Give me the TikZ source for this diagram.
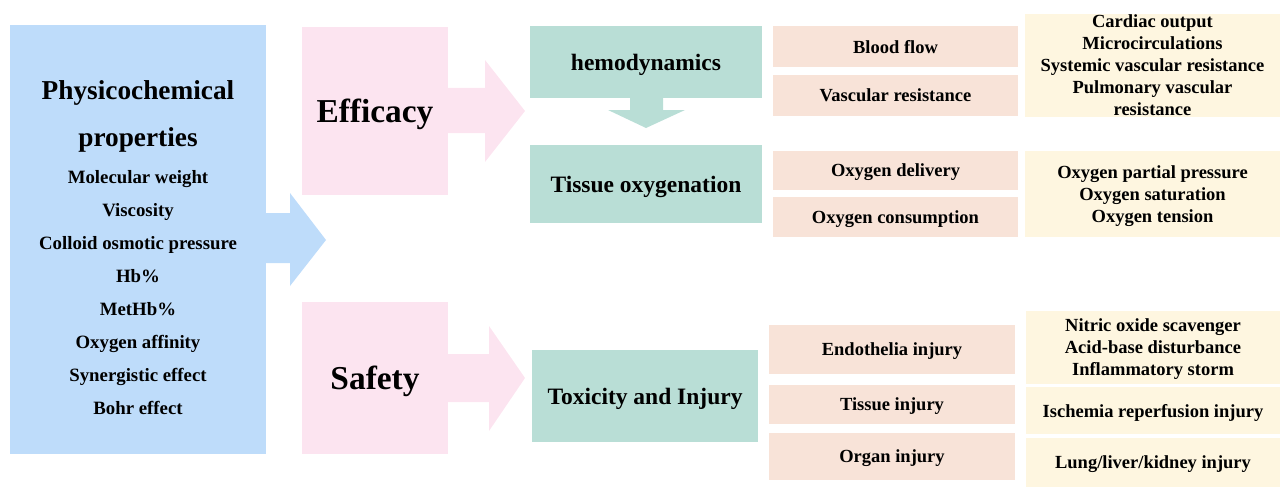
\documentclass[tikz,border=0pt]{standalone}
\usepackage{fontspec}
\setmainfont{Liberation Serif}
\definecolor{cblue}{RGB}{190,220,250}
\definecolor{cpink}{RGB}{252,228,240}
\definecolor{cteal}{RGB}{185,222,214}
\definecolor{csalmon}{RGB}{248,227,216}
\definecolor{cyellow}{RGB}{254,246,224}
\tikzset{
  box/.style={draw=none, inner sep=0pt, outer sep=0pt, align=center, text depth=0pt, font=\bfseries},
  bluebox/.style={box, fill=cblue},
  pinkbox/.style={box, fill=cpink, font=\bfseries\fontsize{33.4}{36}\selectfont},
  tealbox/.style={box, fill=cteal, font=\bfseries\fontsize{23.5}{26}\selectfont},
  salbox/.style={box, fill=csalmon, font=\bfseries\fontsize{18.5}{22}\selectfont},
  yelbox/.style={box, fill=cyellow, font=\bfseries\fontsize{18.5}{22}\selectfont},
  txt/.style={inner sep=0pt, align=center, font=\bfseries},
}
\begin{document}
\begin{tikzpicture}[x=1pt,y=-1pt]
\useasboundingbox (0,0) rectangle (1280,487);
% left block
\node[bluebox, minimum width=256, minimum height=429] (phys) at (138,239.5) {};
\node[txt, font=\bfseries\fontsize{27.3}{47}\selectfont] (ptitle) at (138,116.5) {Physicochemical\\properties};
\node[txt, font=\bfseries\fontsize{18.8}{33}\selectfont] (pitems) at (138,293) {Molecular weight\\Viscosity\\Colloid osmotic pressure\\Hb\%\\MetHb\%\\Oxygen affinity\\Synergistic effect\\Bohr effect};
% pink blocks
\node[pinkbox, minimum width=146, minimum height=168] (eff) at (375,111) {Efficacy};
\node[pinkbox, minimum width=146, minimum height=152] (saf) at (375,378) {Safety};
% teal blocks
\node[tealbox, minimum width=232, minimum height=72] (hemo) at (646,62) {hemodynamics};
\node[tealbox, minimum width=232, minimum height=78] (tiss) at (646,184) {Tissue oxygenation};
\node[tealbox, minimum width=226, minimum height=92] (tox) at (645,396) {Toxicity and Injury};
% salmon blocks
\node[salbox, minimum width=245, minimum height=41] (bf) at (895.5,46.5) {Blood flow};
\node[salbox, minimum width=245, minimum height=41] (vr) at (895.5,95.5) {Vascular resistance};
\node[salbox, minimum width=245, minimum height=39] (od) at (895.5,170.5) {Oxygen delivery};
\node[salbox, minimum width=245, minimum height=40] (oc) at (895.5,217) {Oxygen consumption};
\node[salbox, minimum width=246, minimum height=49] (ei) at (892,349.5) {Endothelia injury};
\node[salbox, minimum width=246, minimum height=39] (ti) at (892,404.5) {Tissue injury};
\node[salbox, minimum width=246, minimum height=47] (oi) at (892,456.5) {Organ injury};
% yellow blocks
\node[yelbox, minimum width=255, minimum height=103] (y1) at (1152.5,65.5) {Cardiac output\\Microcirculations\\Systemic vascular resistance\\Pulmonary vascular\\resistance};
\node[yelbox, minimum width=255, minimum height=86] (y2) at (1152.5,194) {Oxygen partial pressure\\Oxygen saturation\\Oxygen tension};
\node[yelbox, minimum width=254, minimum height=73] (y3) at (1153,347.5) {Nitric oxide scavenger\\Acid-base disturbance\\Inflammatory storm};
\node[yelbox, minimum width=254, minimum height=47] (y4) at (1153,410.5) {Ischemia reperfusion injury};
\node[yelbox, minimum width=254, minimum height=49] (y5) at (1153,462.5) {Lung/liver/kidney injury};
% block arrows
\fill[cblue] (phys.east |- 0,213) -- (290,213) -- (290,193) -- (326,240) -- (290,286) -- (290,263) -- (phys.east |- 0,263) -- cycle;
\fill[cpink] (eff.east |- 0,88) -- (485,88) -- (485,60) -- (525,111) -- (485,162) -- (485,133) -- (eff.east |- 0,133) -- cycle;
\fill[cpink] (saf.east |- 0,354) -- (489,354) -- (489,326) -- (525,378) -- (489,431) -- (489,402) -- (saf.east |- 0,402) -- cycle;
\fill[cteal] (630,0 |- hemo.south) -- (630,110) -- (608,110) -- (646,128) -- (685,110) -- (663,110) -- (663,0 |- hemo.south) -- cycle;
\end{tikzpicture}
\end{document}
